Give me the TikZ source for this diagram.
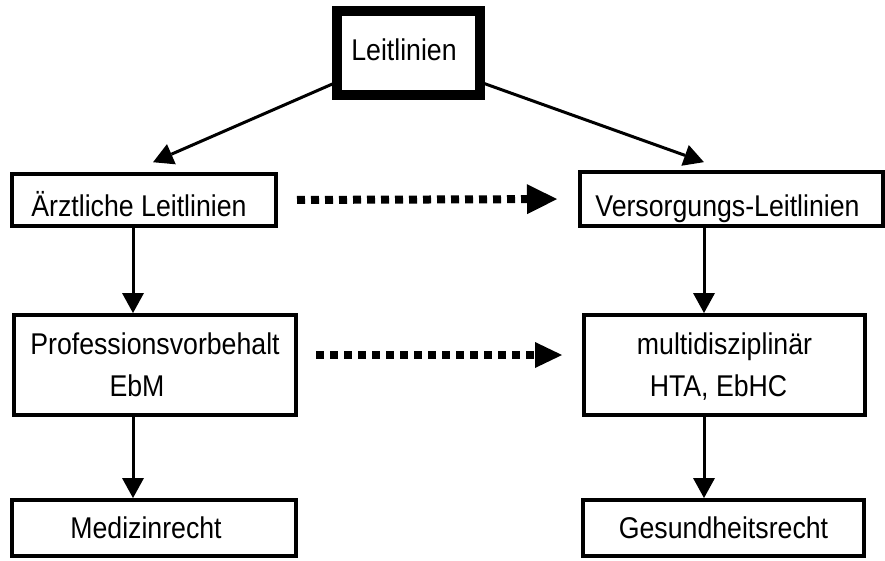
\documentclass[tikz,border=0pt]{standalone}
\usepackage{fontspec}
\setmainfont{Liberation Sans}[FakeStretch=0.89]
\usetikzlibrary{arrows.meta}
\begin{document}
\begin{tikzpicture}[x=1pt,y=-1pt,
  box/.style={draw, line width=4pt, inner sep=0pt, outer sep=0pt,
    font=\fontsize{30}{42}\selectfont},
  onebox/.style={box, text depth=0pt},
  topbox/.style={onebox, line width=10pt},
  arr/.style={line width=3pt, -{Triangle[length=20pt,width=22pt,line width=0pt]}},
  dotarr/.style={line width=8pt, dash pattern=on 8pt off 6pt}
]
\useasboundingbox (0,0) rectangle (885,560);
% boxes
\node[topbox, minimum width=143pt, minimum height=84pt, text height=14pt] (top) at (408.5,53) {Leitlinien\hspace*{9pt}};
\node[onebox, minimum width=264pt, minimum height=52pt, text height=32pt] (aerzt) at (144,200) {Ärztliche Leitlinien\hspace*{10pt}};
\node[onebox, minimum width=303pt, minimum height=54pt, text height=34pt] (vers) at (731.5,199) {Versorgungs-Leitlinien\hspace*{8pt}};
\node[box, minimum width=282pt, minimum height=100pt, align=center] (prof) at (155,365) {Professionsvorbehalt\\\hspace*{-36pt}EbM};
\node[box, minimum width=281pt, minimum height=100pt, align=center] (multi) at (724.5,365) {multidisziplinär\\\hspace*{-12pt}HTA\smash{,} EbHC};
\node[onebox, minimum width=284pt, minimum height=56pt, text height=20pt] (med) at (154,528) {Medizinrecht\hspace*{16pt}};
\node[onebox, minimum width=281pt, minimum height=56pt, text height=20pt] (ges) at (723.5,528) {Gesundheitsrecht};
% columns for vertical connectors
\coordinate (colL) at (133,0);
\coordinate (colR) at (704,0);
% connectors
\draw[arr, shorten >=29.5pt] ([yshift=-29pt]top.west) -- ([xshift=-18pt]aerzt.north);
\draw[arr, shorten >=29.3pt] ([yshift=-29pt]top.east) -- (vers.north);
\draw[arr, shorten >=2pt] (aerzt.south -| colL) -- (prof.north -| colL);
\draw[arr, shorten >=2pt] (prof.south -| colL) -- (med.north -| colL);
\draw[arr, shorten >=2pt] (vers.south -| colR) -- (multi.north -| colR);
\draw[arr, shorten >=2pt] (multi.south -| colR) -- (ges.north -| colR);
\draw[dotarr, -{Triangle[length=30pt,width=30pt,line width=0pt]}, shorten <=21pt, shorten >=23pt] (aerzt.east) -- (vers.west);
\draw[dotarr, -{Triangle[length=27pt,width=26pt,line width=0pt]}, shorten <=20pt, shorten >=22pt] ([yshift=10pt]prof.east) -- ([yshift=10pt]multi.west);
\end{tikzpicture}
\end{document}
